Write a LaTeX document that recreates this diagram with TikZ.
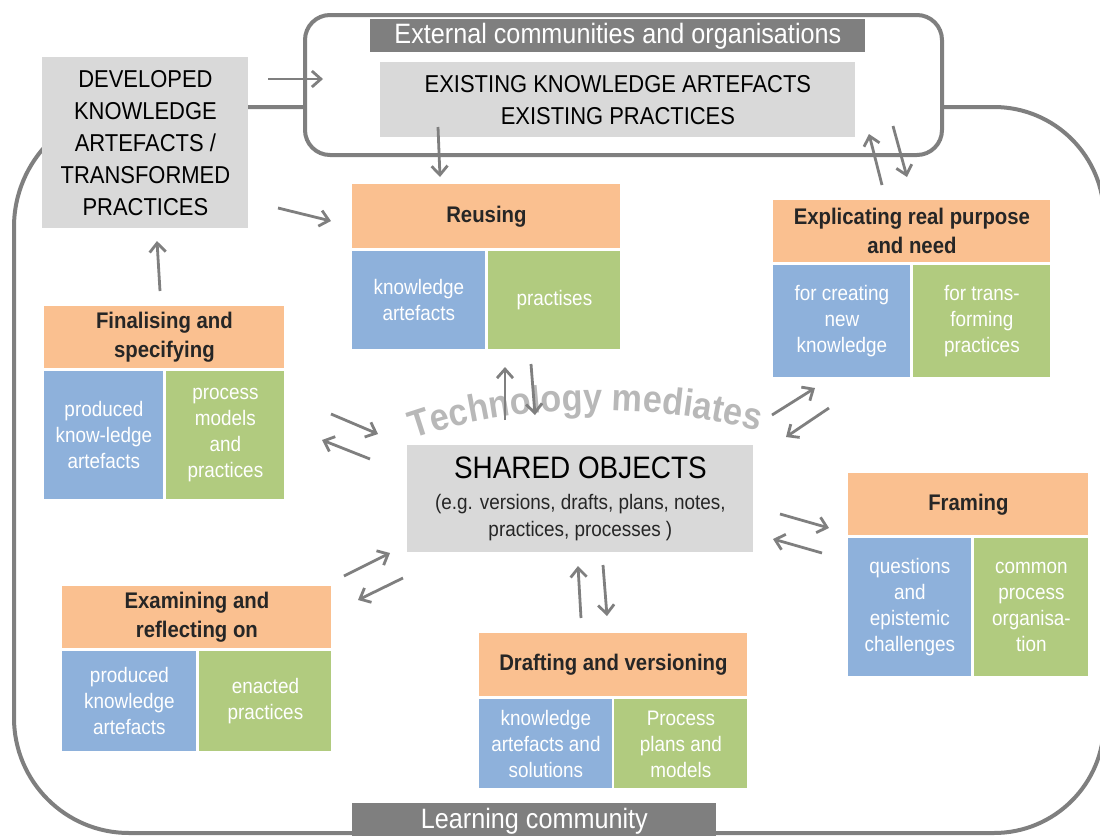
\documentclass[tikz,border=0pt]{standalone}
\usepackage{fontspec}
\setmainfont{Liberation Sans}[FakeStretch=0.9]
\usetikzlibrary{arrows.meta, decorations.text}

\definecolor{hdrorange}{HTML}{FAC090}
\definecolor{knowblue}{HTML}{8EB1DB}
\definecolor{pracgreen}{HTML}{B1CB7F}
\definecolor{objgray}{HTML}{D9D9D9}
\definecolor{linegray}{HTML}{7F7F7F}

\begin{document}
\begin{tikzpicture}[x=0.5pt, y=-0.5pt,
  frame/.style={draw=linegray, line width=2pt},
  cell/.style={anchor=north west, inner sep=0pt, align=center},
  hdr/.style={cell, fill=hdrorange, text=black!85, font=\fontsize{11.3}{14.5}\selectfont\bfseries},
  know/.style={cell, fill=knowblue, text=white, font=\fontsize{10.5}{13}\selectfont},
  prac/.style={cell, fill=pracgreen, text=white, font=\fontsize{10.5}{13}\selectfont},
  obj/.style={cell, fill=objgray, text=black, font=\fontsize{12.2}{16}\selectfont},
  tag/.style={cell, fill=linegray, text=white, font=\fontsize{14}{16}\selectfont},
  arr/.style={draw=linegray, line width=1.4pt, -{Straight Barb[length=4.5pt, width=8pt]}}]
\useasboundingbox (0,0) rectangle (1100,836);
\clip (0,0) rectangle (1100,836);

% learning community
\draw[frame] (134,107) -- (994,107) arc[start angle=270, end angle=360, radius=110]
  -- (1104,723) arc[start angle=0, end angle=90, radius=110]
  -- (129,833) arc[start angle=90, end angle=180, radius=115]
  -- (14,227) arc[start angle=180, end angle=270, radius=120] -- cycle;
\node[tag, minimum width=182pt, minimum height=18pt] (learn) at (352,803) {Learning community};

% external communities
\draw[frame, fill=white, rounded corners=12.5pt] (305,15) rectangle (942,155);
\node[tag, minimum width=247.5pt, minimum height=16.5pt] (ext) at (370,19) {External communities and organisations};
\node[obj, minimum width=237.5pt, minimum height=37.5pt] (exist) at (380,62)
  {EXISTING KNOWLEDGE ARTEFACTS\\EXISTING PRACTICES};

\node[obj, minimum width=103pt, minimum height=85.5pt] (dev) at (42,57)
  {DEVELOPED\\KNOWLEDGE\\ARTEFACTS /\\TRANSFORMED\\PRACTICES};

% activities
\node[hdr, minimum width=134pt, minimum height=32pt] (reuse) at (352,184) {Reusing};
\node[know, minimum width=66.5pt, minimum height=49pt] (reuseK) at (352,251) {knowledge\\artefacts};
\node[prac, minimum width=66pt, minimum height=49pt] (reuseP) at (488,251) {practises};

\node[hdr, minimum width=138.5pt, minimum height=31pt] (expl) at (773,200) {Explicating real purpose\\and need};
\node[know, minimum width=68.5pt, minimum height=56pt] (explK) at (773,265) {for creating\\new\\knowledge};
\node[prac, minimum width=68.5pt, minimum height=56pt] (explP) at (913,265) {for trans-\\forming\\practices};

\node[hdr, minimum width=120pt, minimum height=31pt] (final) at (44,306) {Finalising and\\specifying};
\node[know, minimum width=59.5pt, minimum height=64pt] (finalK) at (44,371) {produced\\know-ledge\\artefacts};
\node[prac, minimum width=59pt, minimum height=64pt] (finalP) at (166,371) {process\\models\\and\\practices};

\node[hdr, minimum width=120pt, minimum height=31pt] (frame) at (848,473) {Framing};
\node[know, minimum width=61.5pt, minimum height=69pt] (frameK) at (848,538) {questions\\and\\epistemic\\challenges};
\node[prac, minimum width=57pt, minimum height=69pt] (frameP) at (974,538) {common\\process\\organisa-\\tion};

\node[hdr, minimum width=134.5pt, minimum height=31pt] (exam) at (62,586) {Examining and\\reflecting on};
\node[know, minimum width=67pt, minimum height=50pt] (examK) at (62,651) {produced\\knowledge\\artefacts};
\node[prac, minimum width=66pt, minimum height=50pt] (examP) at (199,651) {enacted\\practices};

\node[hdr, minimum width=134pt, minimum height=31.5pt] (draft) at (479,633) {Drafting and versioning};
\node[know, minimum width=66.5pt, minimum height=44.5pt] (draftK) at (479,699) {knowledge\\artefacts and\\solutions};
\node[prac, minimum width=66.5pt, minimum height=44.5pt] (draftP) at (614,699) {Process\\plans and\\models};

% shared objects
\node[obj, minimum width=173pt, minimum height=53.5pt, font=\fontsize{10.5}{13.5}\selectfont, text=black!85] (shared) at (407,445)
  {{\fontsize{15.5}{18}\selectfont\color{black}SHARED OBJECTS}\\[2pt](e.g. versions, drafts, plans, notes,\\practices, processes )};

\path[decorate, decoration={text along path, text align=center, text color=black!28,
  text={|\fontsize{19}{20}\selectfont\bfseries|Technology mediates}}]
  (410,440) .. controls (515,402) and (655,402) .. (762,432);

% arrow ends
\coordinate (dx1) at (268,79);  \coordinate (dx2) at (323,79);
\coordinate (dr1) at (278,208); \coordinate (dr2) at (331,221);
\coordinate (er1) at (438,127); \coordinate (er2) at (440,177);
\coordinate (fd1) at (160,291); \coordinate (fd2) at (157,241);
\coordinate (xe1) at (882,185); \coordinate (xe2) at (869,134);
\coordinate (ex1) at (893,126); \coordinate (ex2) at (907,177);
\coordinate (sr1) at (505,420); \coordinate (sr2) at (505,367);
\coordinate (rs1) at (531,364); \coordinate (rs2) at (535,415);
\coordinate (fs1) at (331,414); \coordinate (fs2) at (378,434);
\coordinate (sf1) at (370,459); \coordinate (sf2) at (322,440);
\coordinate (sx1) at (772,415); \coordinate (sx2) at (815,388);
\coordinate (xs1) at (829,408); \coordinate (xs2) at (786,437);
\coordinate (sm1) at (780,514); \coordinate (sm2) at (829,528);
\coordinate (ms1) at (822,553); \coordinate (ms2) at (773,539);
\coordinate (es1) at (344,576); \coordinate (es2) at (390,553);
\coordinate (se1) at (403,578); \coordinate (se2) at (358,600);
\coordinate (ds1) at (581,618); \coordinate (ds2) at (578,566);
\coordinate (sd1) at (603,565); \coordinate (sd2) at (607,616);

\draw[arr] (dx1) -- (dx2);
\draw[arr] (dr1) -- (dr2);
\draw[arr] (er1) -- (er2);
\draw[arr] (fd1) -- (fd2);
\draw[arr] (xe1) -- (xe2);
\draw[arr] (ex1) -- (ex2);
\draw[arr] (sr1) -- (sr2);
\draw[arr] (rs1) -- (rs2);
\draw[arr] (fs1) -- (fs2);
\draw[arr] (sf1) -- (sf2);
\draw[arr] (sx1) -- (sx2);
\draw[arr] (xs1) -- (xs2);
\draw[arr] (sm1) -- (sm2);
\draw[arr] (ms1) -- (ms2);
\draw[arr] (es1) -- (es2);
\draw[arr] (se1) -- (se2);
\draw[arr] (ds1) -- (ds2);
\draw[arr] (sd1) -- (sd2);
\end{tikzpicture}
\end{document}
